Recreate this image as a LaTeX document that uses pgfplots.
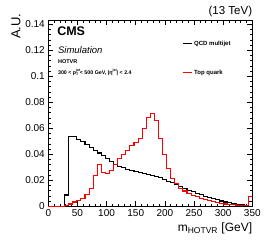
\documentclass[border=0pt]{standalone}
\usepackage{fontspec}
\setmainfont{Liberation Sans}
\usepackage{pgfplots}
\pgfplotsset{compat=1.18}
\newcommand{\supsub}[2]{\rlap{\raisebox{2.4pt}{\fontsize{3.6}{4}\selectfont #1}}\raisebox{-1.4pt}{\fontsize{3.6}{4}\selectfont #2}}
\begin{document}
\begin{tikzpicture}
\useasboundingbox (-48.3pt,-37.7pt) rectangle (217.7pt,206.3pt);
\begin{axis}[
  name=ax, at={(0pt,0pt)}, anchor=south west,
  scale only axis, width=204pt, height=186.3pt,
  xmin=0, xmax=350, ymin=0, ymax=0.1433,
  xtick={0,50,...,350}, ytick={0,0.02,...,0.14},
  minor x tick num=4, minor y tick num=4,
  tick align=inside, major tick length=5pt, minor tick length=2.5pt,
  axis line style={line width=0.8pt}, every tick/.style={black, line width=0.6pt},
  ticklabel style={font=\fontsize{10}{12}\selectfont},
  /pgf/number format/assume math mode=true,
  yticklabel style={/pgf/number format/fixed, /pgf/number format/precision=2},
  xticklabel style={/pgf/number format/fixed},
  clip=false,
  legend style={at={(0.655,0.90)}, anchor=north west, draw=none, fill=none, inner sep=0pt,
    row sep=19pt, font=\fontsize{6}{7}\bfseries\selectfont},
  legend cell align=left,
  legend image code/.code={\draw[#1] (0pt,0pt) -- (9pt,0pt);},
]
\addplot[const plot mark left, black, line width=1.1pt] coordinates {
(0,0) (7,0) (14,0) (21,0) (28,0.0087) (35,0.0535) (42,0.0535) (49,0.0515) (56,0.0495) (63,0.0475)
(70,0.0455) (77,0.0432) (84,0.0410) (91,0.0390) (98,0.0365) (105,0.0342) (112,0.0322) (119,0.0308) (126,0.0295) (133,0.0285)
(140,0.0276) (147,0.0268) (154,0.0262) (161,0.0255) (168,0.0248) (175,0.0240) (182,0.0232) (189,0.0220) (196,0.0205) (203,0.0192)
(210,0.0180) (217,0.0168) (224,0.0152) (231,0.0138) (238,0.0124) (245,0.0112) (252,0.0100) (259,0.0089) (266,0.0078) (273,0.0068)
(280,0.0058) (287,0.0049) (294,0.0041) (301,0.0033) (308,0.0026) (315,0.0020) (322,0.0015) (329,0.0010) (336,0.0006) (343,0.0040)
(350,0.0040)};
\addlegendentry{QCD multijet}
\addplot[const plot mark left, red, line width=1.1pt] coordinates {
(0,0) (7,0) (14,0) (21,0) (28,0.0005) (35,0.0018) (42,0.0033) (49,0.0045) (56,0.0062) (63,0.0092)
(70,0.0138) (77,0.0240) (84,0.0323) (91,0.0262) (98,0.0255) (105,0.0272) (112,0.0320) (119,0.0365) (126,0.0395) (133,0.0432)
(140,0.0465) (147,0.0492) (154,0.0523) (161,0.0595) (168,0.0685) (175,0.0715) (182,0.0662) (189,0.0523) (196,0.0395) (203,0.0290)
(210,0.0215) (217,0.0177) (224,0.0140) (231,0.0118) (238,0.0100) (245,0.0085) (252,0.0074) (259,0.0062) (266,0.0053) (273,0.0044)
(280,0.0036) (287,0.0029) (294,0.0023) (301,0.0018) (308,0.0014) (315,0.0011) (322,0.0008) (329,0.0006) (336,0.0004) (343,0.0075)
(350,0.0075)};
\addlegendentry{Top quark}
\node[anchor=west, inner sep=0pt, font=\fontsize{12.5}{14}\bfseries\selectfont] at (rel axis cs:0.043,0.938) {CMS};
\node[anchor=west, inner sep=0pt, font=\fontsize{9.5}{11}\itshape\selectfont] at (rel axis cs:0.047,0.839) {Simulation};
\node[anchor=west, inner sep=0pt, font=\fontsize{5.5}{6}\bfseries\selectfont] at (rel axis cs:0.047,0.775) {HOTVR};
\node[anchor=west, inner sep=0pt, font=\fontsize{5.3}{6}\bfseries\selectfont] at (rel axis cs:0.047,0.718)
  {300 < p\supsub{jet}{T} < 500 GeV, |η\raisebox{2.4pt}{\fontsize{3.6}{4}\selectfont jet}| < 2.4};
\end{axis}
\node[anchor=base east, inner sep=0pt, font=\fontsize{11.5}{13}\selectfont] at (204pt,191.3pt) {(13 TeV)};
\node[anchor=base east, inner sep=0pt, font=\fontsize{12}{14}\selectfont] at (204pt,-25.7pt) {m$_{\mbox{\fontsize{8.5}{9}\selectfont HOTVR}}$ [GeV]};
\node[anchor=base east, rotate=90, inner sep=0pt, font=\fontsize{13}{15}\selectfont] at (-28pt,193pt) {A.U.};
\end{tikzpicture}
\end{document}
